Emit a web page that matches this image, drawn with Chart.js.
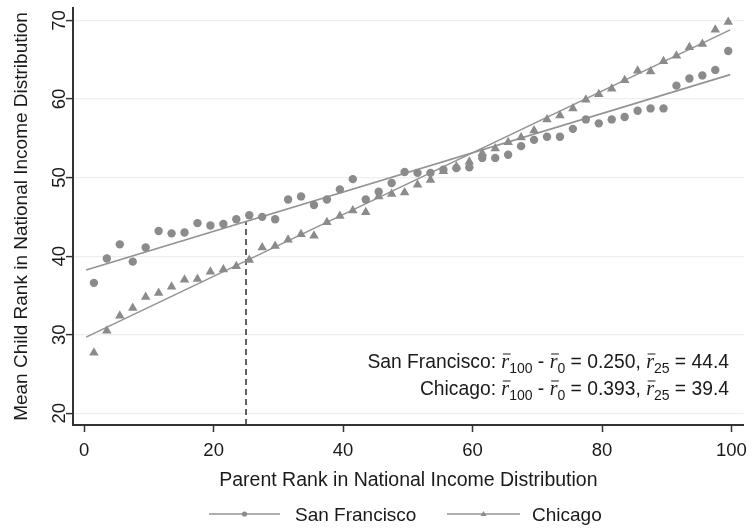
<!DOCTYPE html>
<html>
<head>
<meta charset="utf-8">
<script src="https://cdn.jsdelivr.net/npm/chart.js@4.4.0/dist/chart.umd.min.js"></script>
<style>
html, body { margin: 0; padding: 0; background: #fff; }
</style>
</head>
<body>
<canvas id="myChart" width="755" height="528"></canvas>
<script>
// parent rank bins (x) and mean child rank (y)
var parentRank = [1.5, 3.5, 5.5, 7.5, 9.5, 11.5, 13.5, 15.5, 17.5, 19.5,
                  21.5, 23.5, 25.5, 27.5, 29.5, 31.5, 33.5, 35.5, 37.5, 39.5,
                  41.5, 43.5, 45.5, 47.5, 49.5, 51.5, 53.5, 55.5, 57.5, 59.5,
                  61.5, 63.5, 65.5, 67.5, 69.5, 71.5, 73.5, 75.5, 77.5, 79.5,
                  81.5, 83.5, 85.5, 87.5, 89.5, 91.5, 93.5, 95.5, 97.5, 99.5];

var sanFrancisco = [36.6, 39.7, 41.5, 39.3, 41.1, 43.2, 42.9, 43.0, 44.2, 43.9,
                    44.1, 44.7, 45.2, 45.0, 44.7, 47.2, 47.6, 46.5, 47.2, 48.5,
                    49.8, 47.2, 48.2, 49.3, 50.7, 50.6, 50.6, 51.0, 51.2, 51.3,
                    52.5, 52.5, 52.9, 54.0, 54.8, 55.2, 55.2, 56.2, 57.4, 56.9,
                    57.4, 57.7, 58.5, 58.8, 58.8, 61.7, 62.6, 63.0, 63.7, 66.1];

var chicago = [27.7, 30.5, 32.4, 33.4, 34.8, 35.3, 36.1, 37.0, 37.1, 38.0,
               38.3, 38.7, 39.5, 41.1, 41.3, 42.1, 42.8, 42.6, 44.3, 45.1,
               45.8, 45.6, 47.6, 47.9, 48.1, 49.1, 49.7, 50.8, 51.4, 52.0,
               53.1, 53.7, 54.5, 55.1, 56.0, 57.4, 57.9, 58.8, 59.9, 60.6,
               61.3, 62.4, 63.6, 63.5, 64.8, 65.5, 66.6, 67.0, 68.8, 69.8];

// fitted lines: slope and value at rank 25
var slopes = [0.250, 0.393];
var r25 = [44.4, 39.4];
var fitRange = [0.3, 99.8];

var xTicks = [0, 20, 40, 60, 80, 100];
var yTicks = [20, 30, 40, 50, 60, 70];
var xRange = [-1.73, 101.9];
var yRange = [18.51, 71.58];
var markRank = 25;

var cityNames = ["San Francisco", "Chicago"];

var ink = "#1a1a1a";
var dotGrey = "#8b8b8b";
var lineGrey = "#939393";
var sans = "'Liberation Sans', Arial, sans-serif";

function toPoints(xs, ys) {
    return xs.map(function(x, i) { return {x: x, y: ys[i]}; });
}

function fitLine(k) {
    return fitRange.map(function(x) {
        return {x: x, y: r25[k] + slopes[k] * (x - 25)};
    });
}

var labelsPlugin = {
    id: "extraText",
    afterDraw: function(chart) {
        var ctx = chart.ctx;
        var yScale = chart.scales.y;
        ctx.save();

        // rotated y tick labels
        ctx.fillStyle = ink;
        ctx.font = "18.5px " + sans;
        ctx.textAlign = "center";
        ctx.textBaseline = "middle";
        yTicks.forEach(function(v) {
            var py = yScale.getPixelForValue(v);
            ctx.save();
            ctx.translate(60, py);
            ctx.rotate(-Math.PI / 2);
            ctx.fillText(String(v), 0, 0);
            ctx.restore();
        });

        // annotation lines
        ctx.textAlign = "left";
        ctx.textBaseline = "alphabetic";
        drawStats(ctx, cityNames[0], 0, 729, 368);
        drawStats(ctx, cityNames[1], 1, 729, 395);

        // legend
        drawLegend(ctx, 209, 280, 295, cityNames[0], "circle");
        drawLegend(ctx, 447, 520, 532, cityNames[1], "triangle");

        ctx.restore();
    }
};

function drawStats(ctx, name, k, rightX, baseY) {
    var main = "19.3px " + sans;
    var rFont = "italic 20px 'Liberation Serif', serif";
    var subFont = "14px " + sans;
    var parts = [
        {text: name + ": ", font: main},
        {text: "r", font: rFont, bar: true},
        {text: "100", font: subFont, dy: 5},
        {text: " - ", font: main},
        {text: "r", font: rFont, bar: true},
        {text: "0", font: subFont, dy: 5},
        {text: " = " + slopes[k].toFixed(3) + ", ", font: main},
        {text: "r", font: rFont, bar: true},
        {text: "25", font: subFont, dy: 5},
        {text: " = " + r25[k].toFixed(1), font: main}
    ];
    var total = 0;
    parts.forEach(function(p) {
        ctx.font = p.font;
        p.w = ctx.measureText(p.text).width;
        total += p.w;
    });
    var x = rightX - total;
    ctx.fillStyle = ink;
    ctx.strokeStyle = ink;
    ctx.lineWidth = 1;
    parts.forEach(function(p) {
        ctx.font = p.font;
        ctx.fillText(p.text, x, baseY + (p.dy || 0));
        if (p.bar) {
            ctx.beginPath();
            ctx.moveTo(x + 1.5, baseY - 14);
            ctx.lineTo(x + p.w + 1.5, baseY - 14);
            ctx.stroke();
        }
        x += p.w;
    });
}

function drawLegend(ctx, x0, x1, textX, label, shape) {
    var y = 514;
    ctx.strokeStyle = lineGrey;
    ctx.lineWidth = 1.5;
    ctx.beginPath();
    ctx.moveTo(x0, y);
    ctx.lineTo(x1, y);
    ctx.stroke();
    var cx = (x0 + x1) / 2;
    ctx.fillStyle = dotGrey;
    ctx.beginPath();
    if (shape === "circle") {
        ctx.arc(cx, y, 2.6, 0, Math.PI * 2);
    } else {
        ctx.moveTo(cx, y - 3);
        ctx.lineTo(cx + 3, y + 2);
        ctx.lineTo(cx - 3, y + 2);
        ctx.closePath();
    }
    ctx.fill();
    ctx.fillStyle = ink;
    ctx.font = "19px " + sans;
    ctx.textAlign = "left";
    ctx.textBaseline = "alphabetic";
    ctx.fillText(label, textX, 521);
}

var ctx = document.getElementById("myChart");

var myChart = new Chart(ctx, {
    type: "scatter",
    data: {
        datasets: [
            {
                label: cityNames[0],
                data: toPoints(parentRank, sanFrancisco),
                pointStyle: "circle",
                pointRadius: 4.2,
                backgroundColor: dotGrey,
                borderWidth: 0
            },
            {
                label: cityNames[1],
                data: toPoints(parentRank, chicago),
                pointStyle: "triangle",
                pointRadius: 5.5,
                backgroundColor: dotGrey,
                borderWidth: 0
            },
            {
                type: "line",
                data: fitLine(0),
                showLine: true,
                pointRadius: 0,
                borderColor: lineGrey,
                borderWidth: 1.6,
                fill: false
            },
            {
                type: "line",
                data: fitLine(1),
                showLine: true,
                pointRadius: 0,
                borderColor: lineGrey,
                borderWidth: 1.6,
                fill: false
            },
            {
                type: "line",
                data: [{x: markRank, y: yRange[0]}, {x: markRank, y: r25[0]}],
                showLine: true,
                pointRadius: 0,
                borderColor: "#3a3a3a",
                borderWidth: 1.6,
                borderDash: [6, 4],
                fill: false
            }
        ]
    },
    options: {
        responsive: false,
        animation: false,
        layout: {
            padding: {left: 0, right: 5, top: 8, bottom: 28}
        },
        plugins: {
            legend: {display: false},
            tooltip: {enabled: false}
        },
        scales: {
            x: {
                type: "linear",
                min: xRange[0],
                max: xRange[1],
                afterBuildTicks: function(scale) {
                    scale.ticks = xTicks.map(function(v) { return {value: v}; });
                },
                afterFit: function(scale) { scale.height = 75; },
                grid: {
                    drawOnChartArea: false,
                    tickLength: 7,
                    tickColor: "#333",
                    tickWidth: 1.5
                },
                border: {color: "#333", width: 2},
                ticks: {
                    autoSkip: false,
                    maxRotation: 0,
                    padding: 8,
                    color: ink,
                    font: {family: sans, size: 18.5}
                },
                title: {
                    display: true,
                    text: "Parent Rank in National Income Distribution",
                    color: ink,
                    font: {family: sans, size: 19.5},
                    padding: {top: 0, bottom: 8}
                }
            },
            y: {
                type: "linear",
                min: yRange[0],
                max: yRange[1],
                afterBuildTicks: function(scale) {
                    scale.ticks = yTicks.map(function(v) { return {value: v}; });
                },
                afterFit: function(scale) { scale.width = 73; },
                grid: {
                    color: "#eeeeee",
                    lineWidth: 1.2,
                    tickLength: 7,
                    tickColor: "#333",
                    tickWidth: 1.5
                },
                border: {color: "#333", width: 2},
                ticks: {display: false},
                title: {
                    display: true,
                    text: "Mean Child Rank in National Income Distribution",
                    color: ink,
                    font: {family: sans, size: 19},
                    padding: {top: 10.5, bottom: 0}
                }
            }
        }
    },
    plugins: [labelsPlugin]
});
</script>
</body>
</html>
